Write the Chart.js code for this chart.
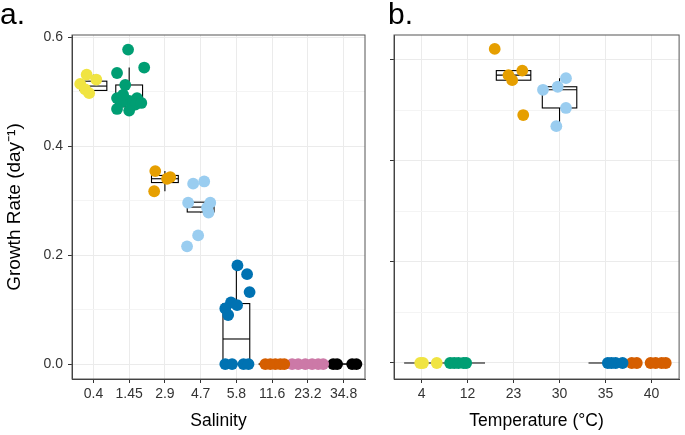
<!DOCTYPE html>
<html>
<head>
<meta charset="utf-8">
<script src="https://cdn.jsdelivr.net/npm/chart.js@4.4.1/dist/chart.umd.min.js"></script>
<style>
  html, body { margin: 0; padding: 0; background: #fff; }
  #wrap { position: relative; width: 685px; height: 435px; }
  .panel { position: absolute; top: 0; height: 435px; }
  #pa { left: 0; width: 380px; }
  #pb { left: 388px; width: 297px; }
</style>
</head>
<body>
<div id="wrap">
  <div class="panel" id="pa"><canvas id="chartA"></canvas></div>
  <div class="panel" id="pb"><canvas id="chartB"></canvas></div>
</div>
<script>
'use strict';

// ── DATA: panel a (salinity) ────────────────────────────────────────────────
const salinityLabels = ['0.4', '1.45', '2.9', '4.7', '5.8', '11.6', '23.2', '34.8'];
const salinityColors = ['#F0E442', '#009E73', '#E69F00', '#9ACDF0', '#0072B2', '#D55E00', '#CC79A7', '#000000'];
// jittered x (category index) per group
const salinityX = [
  [0.81, 1.08, 0.63, 0.77, 0.88],
  [1.97, 2.42, 1.66, 1.89, 1.66, 2.22, 2.00, 1.80, 2.17, 1.66, 2.00, 2.34, 1.83],
  [2.73, 3.15, 3.06, 2.70],
  [3.79, 4.10, 3.65, 4.27, 4.18, 4.22, 3.93, 3.62],
  [5.03, 5.30, 5.37, 4.85, 5.02, 4.69, 4.77, 4.69, 4.88, 5.20, 5.34],
  [5.81, 5.95, 6.09, 6.23, 6.34],
  [6.56, 6.73, 6.93, 7.12, 7.29, 7.43],
  [7.71, 7.82, 8.24, 8.36],
];
// growth rate (day^-1) per group
const salinityY = [
  [0.531, 0.522, 0.514, 0.504, 0.497],
  [0.577, 0.544, 0.534, 0.512, 0.488, 0.488, 0.483, 0.481, 0.476, 0.468, 0.465, 0.479, 0.494],
  [0.354, 0.343, 0.340, 0.317],
  [0.331, 0.335, 0.296, 0.296, 0.287, 0.278, 0.236, 0.216],
  [0.181, 0.165, 0.132, 0.113, 0.108, 0.102, 0.090, 0, 0, 0, 0],
  [0, 0, 0, 0, 0],
  [0, 0, 0, 0, 0, 0],
  [0, 0, 0, 0],
];
// box stats: [lower whisker, q1, median, q3, upper whisker]
const salinityBoxes = [
  [0.497, 0.502, 0.510, 0.519, 0.531],
  [0.465, 0.472, 0.485, 0.512, 0.544],
  [0.317, 0.333, 0.340, 0.346, 0.354],
  [0.278, 0.279, 0.288, 0.297, 0.297],
  [0, 0, 0.046, 0.111, 0.181],
  [0, 0, 0, 0, 0],
  [0, 0, 0, 0, 0],
  [0, 0, 0, 0, 0],
];

// ── DATA: panel b (temperature) ─────────────────────────────────────────────
const tempLabels = ['4', '12', '23', '30', '35', '40'];
const tempColors = ['#F0E442', '#009E73', '#E69F00', '#9ACDF0', '#0072B2', '#D55E00'];
const tempX = [
  [0.97, 1.03, 1.33],
  [1.62, 1.71, 1.80, 1.91, 1.97],
  [2.59, 3.19, 2.89, 2.97, 3.21],
  [3.64, 3.96, 4.14, 4.14, 3.93],
  [5.05, 5.13, 5.22, 5.37],
  [5.57, 5.68, 5.98, 6.09, 6.22, 6.31],
];
const tempY = [
  [0, 0, 0],
  [0, 0, 0, 0, 0],
  [0.622, 0.579, 0.570, 0.560, 0.491],
  [0.541, 0.547, 0.564, 0.505, 0.469],
  [0, 0, 0, 0],
  [0, 0, 0, 0, 0, 0],
];
const tempBoxes = [
  null,
  null,
  [0.560, 0.560, 0.570, 0.579, 0.579],
  [0.469, 0.505, 0.541, 0.547, 0.564],
  null,
  null,
];
// flat zero-growth whisker lines: [from, to] in category units
const tempZeroLines = [[0.62, 2.38], [4.63, 5.5]];

// ── SHARED THEME ────────────────────────────────────────────────────────────
const FONT = "'Liberation Sans', Arial, Helvetica, sans-serif";
const GRID_MAJOR = '#EBEBEB';
const GRID_MINOR = '#F4F4F4';
const AXIS = '#333333';

const isMajor = v => Math.round(v * 10) % 2 === 0;

// boxplots drawn under the points, from stats, through the chart scales
function makeBoxPlugin(boxes, zeroLines) {
  return {
    id: 'boxPlot',
    beforeDatasetsDraw(chart) {
      const { ctx, scales: { x, y } } = chart;
      ctx.save();
      ctx.strokeStyle = '#000';
      ctx.lineWidth = 1.1;
      (zeroLines || []).forEach(([a, b]) => {
        ctx.beginPath();
        ctx.moveTo(x.getPixelForValue(a), y.getPixelForValue(0));
        ctx.lineTo(x.getPixelForValue(b), y.getPixelForValue(0));
        ctx.stroke();
      });
      boxes.forEach((b, i) => {
        if (!b) return;
        const [lo, q1, med, q3, hi] = b;
        const cx = x.getPixelForValue(i + 1);
        const x0 = x.getPixelForValue(i + 1 - 0.375);
        const x1 = x.getPixelForValue(i + 1 + 0.375);
        const yq1 = y.getPixelForValue(q1), yq3 = y.getPixelForValue(q3);
        ctx.beginPath();
        ctx.moveTo(cx, y.getPixelForValue(hi)); ctx.lineTo(cx, yq3);
        ctx.moveTo(cx, y.getPixelForValue(lo)); ctx.lineTo(cx, yq1);
        ctx.stroke();
        ctx.fillStyle = '#fff';
        ctx.fillRect(x0, yq3, x1 - x0, yq1 - yq3);
        ctx.strokeRect(x0, yq3, x1 - x0, yq1 - yq3);
        ctx.beginPath();
        ctx.moveTo(x0, y.getPixelForValue(med)); ctx.lineTo(x1, y.getPixelForValue(med));
        ctx.stroke();
      });
      ctx.restore();
    },
  };
}

// panel border (top / right sides)
const framePlugin = {
  id: 'frame',
  afterDraw(chart) {
    const { ctx, chartArea: a } = chart;
    ctx.save();
    ctx.strokeStyle = '#555';
    ctx.lineWidth = 1;
    ctx.strokeRect(a.left, a.top, a.right - a.left, a.bottom - a.top);
    ctx.restore();
  },
};

function buildDatasets(xs, ys, colors) {
  return xs.map((col, i) => ({
    type: 'scatter',
    data: col.map((x, j) => ({ x, y: ys[i][j] })),
    backgroundColor: colors[i],
    borderWidth: 0,
    pointRadius: 5.9,
    pointHoverRadius: 5.9,
  }));
}

function makeChart(canvasId, cfg) {
  const yTicks = [0, 0.1, 0.2, 0.3, 0.4, 0.5, 0.6];
  return new Chart(document.getElementById(canvasId), {
    type: 'scatter',
    data: { datasets: buildDatasets(cfg.xs, cfg.ys, cfg.colors) },
    options: {
      responsive: true,
      maintainAspectRatio: false,
      animation: false,
      devicePixelRatio: 1,
      layout: { padding: { left: 0, right: cfg.padRight, top: 0, bottom: 0 } },
      plugins: {
        legend: { display: false },
        tooltip: { enabled: false },
        title: {
          display: true,
          text: cfg.letter,
          align: 'start',
          color: '#000',
          font: { family: FONT, size: 30, weight: 'normal', lineHeight: 1 },
          padding: { top: 1, bottom: 4 },
        },
      },
      scales: {
        x: {
          type: 'linear',
          min: 0.4,
          max: cfg.labels.length + 0.6,
          afterBuildTicks: s => { s.ticks = cfg.labels.map((_, i) => ({ value: i + 1 })); },
          afterFit: s => { s.height = 56; },
          ticks: {
            autoSkip: false, maxRotation: 0, padding: 3,
            color: AXIS, font: { family: FONT, size: 14 },
            callback: v => cfg.labels[Math.round(v) - 1],
          },
          grid: { color: GRID_MAJOR, lineWidth: 1, tickLength: 4, tickColor: AXIS },
          border: { display: true, color: AXIS, width: 1 },
          title: {
            display: true, text: cfg.xTitle, color: '#000',
            font: { family: FONT, size: 17.5 }, padding: { top: 4, bottom: 3 },
          },
        },
        y: {
          type: 'linear',
          min: cfg.yMin,
          max: cfg.yMax,
          afterBuildTicks: s => { s.ticks = yTicks.map(value => ({ value })); },
          afterFit: s => { s.width = cfg.yWidth; },
          ticks: {
            display: cfg.showYLabels, autoSkip: false, padding: 5,
            color: AXIS, font: { family: FONT, size: 14 },
            callback: v => (isMajor(v) ? v.toFixed(1) : ''),
          },
          grid: {
            lineWidth: 1, tickLength: 4,
            color: c => (isMajor(c.tick.value) ? GRID_MAJOR : GRID_MINOR),
            tickColor: c => (isMajor(c.tick.value) ? AXIS : 'rgba(0,0,0,0)'),
          },
          border: { display: true, color: AXIS, width: 1 },
          title: {
            display: cfg.showYLabels, text: 'Growth Rate (day\u207B\u00B9)', color: '#000',
            font: { family: FONT, size: 19 }, padding: { top: 3, bottom: 4 },
          },
        },
      },
    },
    plugins: [makeBoxPlugin(cfg.boxes, cfg.zeroLines), framePlugin],
  });
}

makeChart('chartA', {
  letter: 'a.', labels: salinityLabels, xs: salinityX, ys: salinityY, colors: salinityColors,
  boxes: salinityBoxes, zeroLines: [], xTitle: 'Salinity',
  yMin: -0.0274, yMax: 0.6037, yWidth: 72, padRight: 15, showYLabels: true,
});

makeChart('chartB', {
  letter: 'b.', labels: tempLabels, xs: tempX, ys: tempY, colors: tempColors,
  boxes: tempBoxes, zeroLines: tempZeroLines, xTitle: 'Temperature (\u00B0C)',
  yMin: -0.0317, yMax: 0.6495, yWidth: 6, padRight: 1, showYLabels: false,
});
</script>
</body>
</html>
